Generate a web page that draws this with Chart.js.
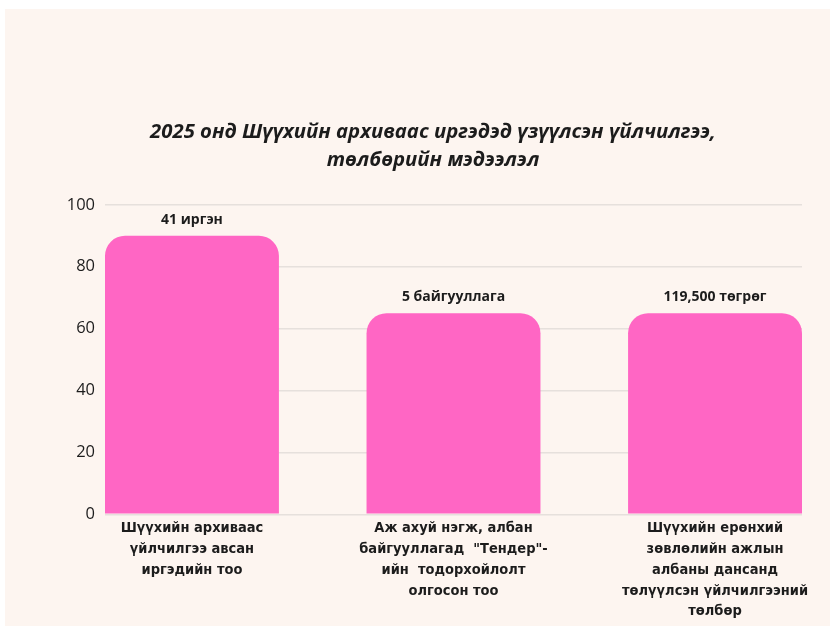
<!DOCTYPE html>
<html>
<head>
<meta charset="utf-8">
<script src="https://cdn.jsdelivr.net/npm/chart.js@4/dist/chart.umd.min.js"></script>
<style>
  html, body { margin: 0; padding: 0; background: #ffffff; }
  #wrap { position: absolute; left: 5px; top: 9px; width: 825px; height: 617px; background: #fdf5f0; }
  canvas { display: block; }
</style>
</head>
<body>
<div id="wrap"><canvas id="chart" width="825" height="617"></canvas></div>
<script>
  const TITLE = ["2025 онд Шүүхийн архиваас иргэдэд үзүүлсэн үйлчилгээ,", "төлбөрийн мэдээлэл"];

  const categories = [
    ["Шүүхийн архиваас", "үйлчилгээ авсан", "иргэдийн тоо"],
    ["Аж ахуй нэгж, албан", "байгууллагад  \"Тендер\"-", "ийн  тодорхойлолт", "олгосон тоо"],
    ["Шүүхийн ерөнхий", "зөвлөлийн ажлын", "албаны дансанд", "төлүүлсэн үйлчилгээний", "төлбөр"],
  ];
  const values = [90, 65, 65];
  const valueLabels = ["41 иргэн", "5 байгууллага", "119,500 төгрөг"];
  const yTicks = [0, 20, 40, 60, 80, 100];

  const PINK = "#ff66c4";
  const INK = "#1c1c1c";

  const el = (id) => document.getElementById(id);

  // labels above each bar
  const barLabels = {
    id: "barLabels",
    afterDatasetsDraw(chart){
      const ctx = chart.ctx;
      const meta = chart.getDatasetMeta(0);
      ctx.save();
      ctx.font = "bold 14px 'Open Sans', sans-serif";
      ctx.fillStyle = INK;
      ctx.textAlign = "center";
      ctx.textBaseline = "middle";
      meta.data.forEach((bar, i) => {
        ctx.fillText(valueLabels[i], bar.x, bar.y - 16);
      });
      ctx.restore();
    }
  };

  new Chart(el("chart"), {
    type: "bar",
    data: {
      datasets: [{
        data: values.map((v, i) => ({ x: i, y: v })),
        backgroundColor: PINK,
        borderRadius: { topLeft: 20, topRight: 20, bottomLeft: 0, bottomRight: 0 },
        borderSkipped: "bottom",
        categoryPercentage: 1,
        barPercentage: 0.665,
      }]
    },
    options: {
      responsive: false,
      animation: false,
      layout: { padding: { left: 59, right: 28, top: 0, bottom: 0 } },
      plugins: {
        legend: { display: false },
        tooltip: { enabled: false },
        title: {
          display: true,
          text: TITLE,
          color: INK,
          font: { family: "'Open Sans', sans-serif", size: 20.3, weight: "bold", style: "italic", lineHeight: 1.4 },
          padding: { top: 109, bottom: 30 }
        }
      },
      scales: {
        x: {
          type: "linear",
          offset: false,
          min: -0.3325,
          max: 2.3325,
          grid: { display: false, drawTicks: false },
          border: { display: false },
          afterBuildTicks: (axis) => { axis.ticks = categories.map((_, i) => ({ value: i })); },
          ticks: {
            color: INK,
            padding: 4,
            maxRotation: 0,
            autoSkip: false,
            font: { family: "'Liberation Sans Narrow', 'DejaVu Sans Condensed', sans-serif", size: 14.5, weight: "bold", lineHeight: 1.43 },
            callback: (v) => categories[v] || ""
          }
        },
        y: {
          min: 0,
          max: 100,
          afterBuildTicks: (axis) => { axis.ticks = yTicks.map(v => ({ value: v })); },
          afterFit: (axis) => { axis.width = 41; },
          grid: { color: "#e6e0dc", lineWidth: 1.5, drawTicks: false },
          border: { display: false },
          ticks: {
            color: INK,
            padding: 10,
            font: { family: "'Open Sans', sans-serif", size: 16.5 }
          }
        }
      }
    },
    plugins: [barLabels]
  });
</script>
</body>
</html>
